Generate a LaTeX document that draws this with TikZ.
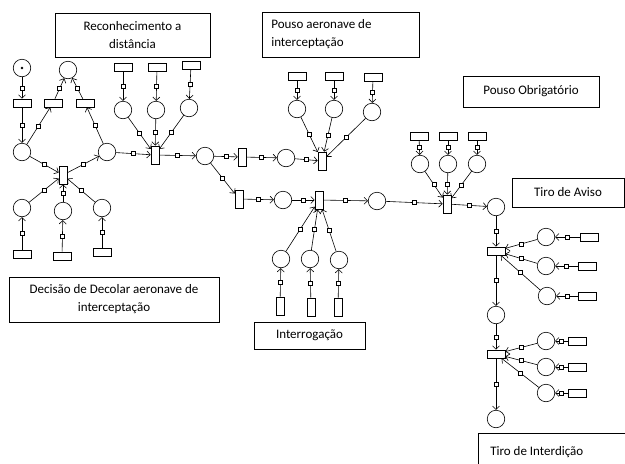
\documentclass[tikz,border=0pt]{standalone}
\usepackage{fontspec}
\setmainfont{Carlito}
\usetikzlibrary{arrows.meta}
\begin{document}
\begin{tikzpicture}[x=1pt,y=-1pt,line width=0.6pt,
  >={Straight Barb[length=3.5pt,width=7pt]},
  pl/.style={circle,draw,minimum size=17.5pt,inner sep=0pt},
  ht/.style={rectangle,draw,minimum width=18pt,minimum height=8pt,inner sep=0pt},
  vt/.style={rectangle,draw,minimum width=8pt,minimum height=18pt,inner sep=0pt},
  lb/.style={draw,rectangle,inner sep=0pt,align=center,font=\fontsize{13}{18}\selectfont},
  tx/.style={inner sep=0pt,font=\fontsize{13}{18}\selectfont},
  sq/.style={rectangle,draw,fill=white,minimum size=4pt,inner sep=0pt,line width=0.5pt},
  ar/.style={->}
]
\useasboundingbox (0,0) rectangle (625,464);
% label boxes
\node[lb,minimum width=155pt,minimum height=44pt] (lrec) at (132.5,35) {Reconhecimento a\\distância};
\node[draw,rectangle,minimum width=157pt,minimum height=45pt,inner sep=0pt] (lpou) at (340.5,34.5) {};
\node[tx,align=left,anchor=west] (lpoutx) at (271,34.5) {Pouso aeronave de\\interceptação};
\node[lb,minimum width=136pt,minimum height=31pt] (lobr) at (531,91.5) {Pouso Obrigatório};
\node[lb,minimum width=112pt,minimum height=29pt] (lavi) at (568,192.5) {Tiro de Aviso};
\node[lb,minimum width=210pt,minimum height=45pt] (ldec) at (114,299.5) {Decisão de Decolar aeronave de\\interceptação};
\node[lb,minimum width=111pt,minimum height=27pt] (lint) at (309.5,335.5) {Interrogação};
\draw (625,433) -- (478,433) -- (478,464);
\node[tx,anchor=west] (ltid) at (490,452) {Tiro de Interdição};
% left cluster
\node[pl] (p0) at (22,68) {};
\fill (p0.center) circle (1.4pt);
\node[ht] (t1) at (22,103) {};
\node[pl] (p1) at (22,152) {};
\node[ht] (t2) at (53,103) {};
\node[ht] (t3) at (85,103) {};
\node[pl] (p2) at (68,70) {};
\node[pl] (p3) at (107,152) {};
\node[vt] (t4) at (63,175) {};
\node[pl] (pa) at (22,208) {};
\node[pl] (pb) at (63,211) {};
\node[pl] (pc) at (102,208) {};
\node[ht] (ra) at (22,254) {};
\node[ht] (rb) at (62,256) {};
\node[ht] (rc) at (102,252) {};
\draw[ar] (p0) -- node[sq]{} (t1);
\draw[ar] (t1) -- node[sq]{} (p1);
\draw[ar] (p1) -- node[sq]{} (t2);
\draw[ar] (t2) -- node[sq]{} (p2);
\draw[ar] (p3) -- node[sq]{} (t3);
\draw[ar] (t3) -- node[sq]{} (p2);
\draw[ar] (p1) -- node[sq]{} (t4);
\draw[ar] (t4) -- node[sq]{} (p3);
\draw[ar] (pa) -- node[sq]{} (t4);
\draw[ar] (pb) -- node[sq]{} (t4);
\draw[ar] (pc) -- node[sq]{} (t4);
\draw[ar] (ra) -- node[sq]{} (pa);
\draw[ar] (rb) -- node[sq]{} (pb);
\draw[ar] (rc) -- node[sq]{} (pc);
% reconhecimento
\node[vt] (t5) at (155,155) {};
\node[pl] (q1) at (123,110) {};
\node[pl] (q2) at (156,110) {};
\node[pl] (q3) at (189,108) {};
\node[ht] (s1) at (123,67) {};
\node[ht] (s2) at (157,67) {};
\node[ht] (s3) at (191,65) {};
\foreach \i in {1,2,3} {
  \draw[ar] (s\i) -- node[sq]{} (q\i);
  \draw[ar] (q\i) -- node[sq]{} (t5);
}
\draw[ar] (p3) -- node[sq]{} (t5);
\node[pl] (p4) at (205,156) {};
\draw[ar] (t5) -- node[sq]{} (p4);
% pouso aeronave
\node[vt] (t6) at (242,157) {};
\node[pl] (p5) at (286,158) {};
\node[vt] (t7) at (322,161) {};
\node[pl] (u1) at (297,109) {};
\node[pl] (u2) at (334,109) {};
\node[pl] (u3) at (372,112) {};
\node[ht] (v1) at (297,76) {};
\node[ht] (v2) at (334,76) {};
\node[ht] (v3) at (373,77) {};
\draw[ar] (p4) -- node[sq]{} (t6);
\draw[ar] (t6) -- node[sq]{} (p5);
\draw[ar] (p5) -- node[sq]{} (t7);
\foreach \i in {1,2,3} {
  \draw[ar] (v\i) -- node[sq]{} (u\i);
  \draw[ar] (u\i) -- node[sq]{} (t7);
}
% interrogacao
\node[vt] (t8) at (239,199) {};
\node[pl] (p6) at (283,200) {};
\node[vt] (t9) at (319,200) {};
\node[pl] (p7) at (377,201) {};
\node[pl] (i1) at (281,259) {};
\node[pl] (i2) at (310,259) {};
\node[pl] (i3) at (339,260) {};
\node[vt] (j1) at (280,306) {};
\node[vt] (j2) at (311,307) {};
\node[vt] (j3) at (338,307) {};
\draw[ar] (p4) -- node[sq]{} (t8);
\draw[ar] (t8) -- node[sq]{} (p6);
\draw[ar] (p6) -- node[sq]{} (t9);
\draw[ar] (t9) -- node[sq]{} (p7);
\foreach \i in {1,2,3} {
  \draw[ar] (j\i) -- node[sq]{} (i\i);
  \draw[ar] (i\i) -- node[sq]{} (t9);
}
% pouso obrigatorio
\node[vt] (t10) at (447,204) {};
\node[pl] (o1) at (420,164) {};
\node[pl] (o2) at (448,164) {};
\node[pl] (o3) at (477,164) {};
\node[ht] (w1) at (419,136) {};
\node[ht] (w2) at (448,136) {};
\node[ht] (w3) at (477,136) {};
\draw[ar] (p7) -- node[sq]{} (t10);
\foreach \i in {1,2,3} {
  \draw[ar] (w\i) -- node[sq]{} (o\i);
  \draw[ar] (o\i) -- node[sq]{} (t10);
}
\node[pl] (p8) at (496,207) {};
\draw[ar] (t10) -- node[sq]{} (p8);
% tiro de aviso
\node[ht] (t11) at (496,251) {};
\node[pl] (a1) at (546,237) {};
\node[pl] (a2) at (546,266) {};
\node[pl] (a3) at (547,296) {};
\node[ht] (x1) at (589,237) {};
\node[ht] (x2) at (587,266) {};
\node[ht] (x3) at (587,296) {};
\draw[ar] (p8) -- node[sq]{} (t11);
\foreach \i in {1,2,3} {
  \draw[ar] (x\i) -- node[sq]{} (a\i);
  \draw[ar] (a\i) -- node[sq]{} (t11);
}
\node[pl] (p9) at (496,315) {};
\draw[ar] (t11) -- node[sq]{} (p9);
% tiro de interdicao
\node[ht] (t12) at (496,354) {};
\node[pl] (b1) at (546,341) {};
\node[pl] (b2) at (546,367) {};
\node[pl] (b3) at (546,393) {};
\node[ht] (y1) at (577,341) {};
\node[ht] (y2) at (577,367) {};
\node[ht] (y3) at (577,393) {};
\draw[ar] (p9) -- node[sq]{} (t12);
\foreach \i in {1,2,3} {
  \draw[ar] (y\i) -- node[sq]{} (b\i);
  \draw[ar] (b\i) -- node[sq]{} (t12);
}
\node[pl] (p10) at (496,419) {};
\draw[ar] (t12) -- node[sq]{} (p10);
\end{tikzpicture}
\end{document}
